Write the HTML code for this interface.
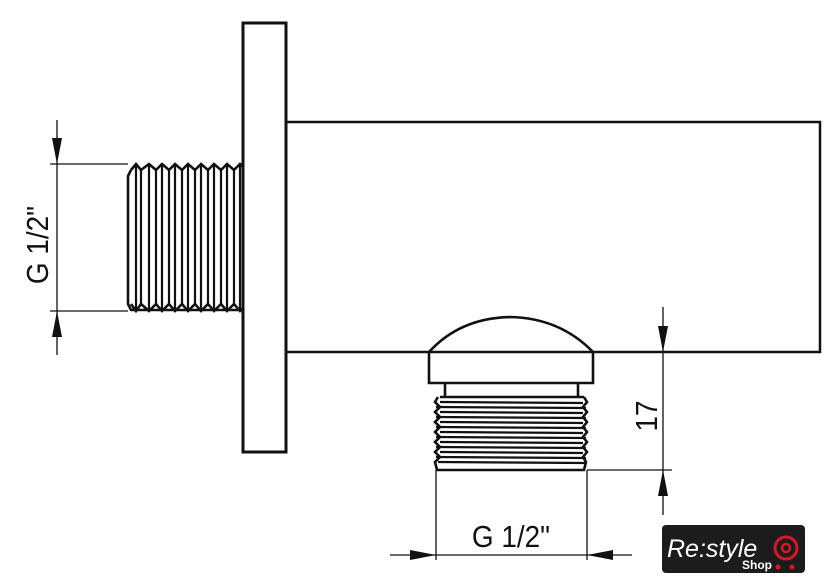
<!DOCTYPE html>
<html><head><style>
html,body{margin:0;padding:0;background:#fff;width:840px;height:584px;overflow:hidden}
svg{display:block}
text{font-family:"Liberation Sans",sans-serif;fill:#111}
</style></head><body>
<svg width="840" height="584" viewBox="0 0 840 584" xmlns="http://www.w3.org/2000/svg">
<g stroke="#111" fill="none">
<rect x="243" y="23" width="43" height="429" stroke-width="3"/>
<polyline points="286,122 820,122 820,352 286,352" stroke-width="2.5"/>
<g stroke-width="2.6">
<path d="M131,170 L128,176 L128,304 L131,310 L243,310"/>
<path d="M131,170 L136,164 L141,170 L149,164 L156,170 L162,164 L169,170 L175,164 L182,170 L188,164 L195,170 L201,164 L208,170 L214,164 L221,170 L227,164 L234,170 L240,164 L243,167"/>
<path d="M131,304 L136,311 L141,304 L149,311 L156,304 L162,311 L169,304 L175,311 L182,304 L188,311 L195,304 L201,311 L208,304 L214,311 L221,304 L227,311 L234,304 L240,311 L243,308"/>
</g>
<g stroke-width="2.2">
<line x1="136" y1="166" x2="136" y2="309"/>
<line x1="141" y1="170" x2="141" y2="304"/>
<line x1="149" y1="166" x2="149" y2="309"/>
<line x1="156" y1="170" x2="156" y2="304"/>
<line x1="162" y1="166" x2="162" y2="309"/>
<line x1="169" y1="170" x2="169" y2="304"/>
<line x1="175" y1="166" x2="175" y2="309"/>
<line x1="182" y1="170" x2="182" y2="304"/>
<line x1="188" y1="166" x2="188" y2="309"/>
<line x1="195" y1="170" x2="195" y2="304"/>
<line x1="201" y1="166" x2="201" y2="309"/>
<line x1="208" y1="170" x2="208" y2="304"/>
<line x1="214" y1="166" x2="214" y2="309"/>
<line x1="221" y1="170" x2="221" y2="304"/>
<line x1="227" y1="166" x2="227" y2="309"/>
<line x1="234" y1="170" x2="234" y2="304"/>
<line x1="240" y1="166" x2="240" y2="309"/>
</g>
<g stroke-width="1.3">
<line x1="50" y1="164" x2="128" y2="164"/>
<line x1="50" y1="311" x2="128" y2="311"/>
<line x1="57" y1="120" x2="57" y2="355"/>
</g>
<g stroke-width="2.6">
<path d="M429,352 L429,383 L593,383 L593,352 Q560,318 510,317 Q460,318 429,352 Z"/>
<path d="M445,383 L445,397 M578,383 L578,397"/>
<path d="M440,397 L584,397"/>
<path d="M438,397 L435,402 L440,407 L435,412 L440,417 L435,422 L440,427 L435,432 L440,437 L435,442 L440,447 L435,452 L440,457 L435,462 L437,470 L584,470 L586,462 L583,457 L587,452 L583,447 L587,442 L583,437 L587,432 L583,427 L587,422 L583,417 L587,412 L583,407 L587,402 L584,397"/>
</g>
<g stroke-width="2.2">
<line x1="440" y1="402" x2="583" y2="403"/>
<line x1="436" y1="407" x2="586" y2="408"/>
<line x1="440" y1="412" x2="583" y2="413"/>
<line x1="436" y1="417" x2="586" y2="418"/>
<line x1="440" y1="422" x2="583" y2="423"/>
<line x1="436" y1="427" x2="586" y2="428"/>
<line x1="440" y1="432" x2="583" y2="433"/>
<line x1="436" y1="437" x2="586" y2="438"/>
<line x1="440" y1="442" x2="583" y2="443"/>
<line x1="436" y1="447" x2="586" y2="448"/>
<line x1="440" y1="452" x2="583" y2="453"/>
<line x1="436" y1="457" x2="586" y2="458"/>
<line x1="438" y1="462" x2="585" y2="463"/>
</g>
<g stroke-width="1.3">
<line x1="436" y1="470" x2="436" y2="560"/>
<line x1="587" y1="470" x2="587" y2="560"/>
<line x1="587" y1="470" x2="672" y2="470"/>
<line x1="593" y1="352" x2="672" y2="352"/>
<line x1="390" y1="555" x2="632" y2="555"/>
<line x1="663" y1="307" x2="663" y2="515"/>
</g>
</g>
<g fill="#111">
<polygon points="57,164 52,138 62,138"/>
<polygon points="57,311 52,337 62,337"/>
<polygon points="436,555 410,550 410,560"/>
<polygon points="587,555 613,550 613,560"/>
<polygon points="663,352 658,326 668,326"/>
<polygon points="663,470 658,496 668,496"/>
</g>
<text x="0" y="0" font-size="31" text-anchor="middle" transform="translate(48,245) rotate(-90) scale(0.9,1)">G 1/2"</text>
<text x="0" y="0" font-size="31" text-anchor="middle" transform="translate(511,547) scale(0.9,1)">G 1/2"</text>
<text x="0" y="0" font-size="31" text-anchor="middle" transform="translate(657,416) rotate(-90) scale(0.9,1)">17</text>
<rect x="662" y="525" width="143" height="48" rx="4" fill="#1c1c1c"/>
<text x="667" y="557" font-size="25" font-style="italic" style="fill:#fff">Re:style</text>
<text x="742" y="569" font-size="12" font-weight="bold" style="fill:#fff">Shop</text>
<circle cx="786" cy="548" r="11" fill="none" stroke="#d6172a" stroke-width="3"/>
<circle cx="786" cy="548" r="4" fill="none" stroke="#d6172a" stroke-width="2.5"/>
<circle cx="778" cy="567" r="2.5" fill="#d6172a"/>
<circle cx="792" cy="567" r="2.5" fill="#d6172a"/>
</svg>
</body></html>
